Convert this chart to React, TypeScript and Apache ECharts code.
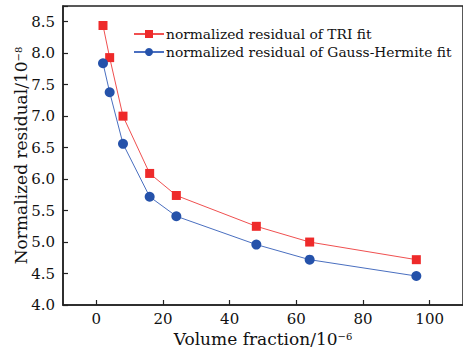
import React, { useEffect, useRef } from "react";
import * as echarts from "echarts";

const xValues = [2, 4, 8, 16, 24, 48, 64, 96];
const triResidual = [8.44, 7.93, 7.0, 6.09, 5.74, 5.25, 5.0, 4.72];
const ghResidual = [7.84, 7.38, 6.56, 5.72, 5.41, 4.96, 4.72, 4.46];
const xTicks = [0, 20, 40, 60, 80, 100];
const seriesNames = [
  "normalized residual of TRI fit",
  "normalized residual of Gauss-Hermite fit",
];

const FONT = "'DejaVu Serif', 'Liberation Serif', serif";

export default function App() {
  const ref = useRef<HTMLDivElement>(null);
  useEffect(() => {
    if (!ref.current) return;
    const chart = echarts.init(ref.current, undefined, { renderer: "svg" });
    const pair = (ys: number[]) => xValues.map((x, i) => [x, ys[i]]);
    const supRich = { sup: { fontSize: 10, verticalAlign: "top", lineHeight: 15, fontFamily: FONT, color: "#111" } };
    chart.setOption({
      animation: false,
      backgroundColor: "#fff",
      textStyle: { fontFamily: FONT },
      grid: {
        left: 63,
        right: 0,
        top: 6,
        bottom: 43,
        outerBoundsMode: "none",
        containLabel: false,
        show: true,
        borderColor: "#222",
        borderWidth: 1.5,
        backgroundColor: "transparent",
      },
      legend: {
        orient: "vertical",
        left: 128,
        top: 22,
        itemWidth: 30,
        itemHeight: 10,
        itemGap: 4,
        textStyle: { fontFamily: FONT, fontSize: 13.8, lineHeight: 14, color: "#111", padding: [0, 0, 0, -3] },
        data: seriesNames,
      },
      xAxis: {
        type: "value",
        min: -10,
        max: 110,
        name: "Volume fraction/10{sup|−6}",
        nameLocation: "middle",
        nameGap: 26,
        nameMoveOverlap: false,
        nameTextStyle: { fontFamily: FONT, fontSize: 17, lineHeight: 15, color: "#111", rich: supRich },
        axisLine: { show: true, onZero: false, lineStyle: { color: "#222", width: 1.5 } },
        axisTick: { show: true, inside: true, length: 5, customValues: xTicks, lineStyle: { color: "#222", width: 1.2 } },
        axisLabel: {
          fontFamily: FONT,
          fontSize: 15,
          lineHeight: 15,
          color: "#111",
          margin: 6,
          customValues: xTicks,
        },
        splitLine: { show: false },
      },
      yAxis: {
        type: "value",
        min: 4.0,
        max: 8.75,
        interval: 0.5,
        name: "Normalized residual/10{sup|−8}",
        nameLocation: "middle",
        nameGap: 35,
        nameMoveOverlap: false,
        nameRotate: 90,
        nameTextStyle: { fontFamily: FONT, fontSize: 17, lineHeight: 15, color: "#111", rich: supRich },
        axisLine: { show: true, onZero: false, lineStyle: { color: "#222", width: 1.5 } },
        axisTick: { show: true, inside: true, length: 5, lineStyle: { color: "#222", width: 1.2 } },
        axisLabel: {
          fontFamily: FONT,
          fontSize: 15,
          color: "#111",
          margin: 8,
          formatter: (v: number) => (v > 8.6 ? "" : v.toFixed(1)),
        },
        splitLine: { show: false },
      },
      series: [
        {
          name: seriesNames[0],
          type: "line",
          data: pair(triResidual),
          symbol: "rect",
          symbolSize: 9,
          itemStyle: { color: "#ee2a2a" },
          lineStyle: { color: "#f05050", width: 1 },
        },
        {
          name: seriesNames[1],
          type: "line",
          data: pair(ghResidual),
          symbol: "circle",
          symbolSize: 10,
          itemStyle: { color: "#2552aa" },
          lineStyle: { color: "#4a6fc0", width: 1 },
        },
      ],
    });
    return () => chart.dispose();
  }, []);
  return <div ref={ref} style={{ width: 463, height: 348, position: "absolute", left: 0, top: 0 }} />;
}
